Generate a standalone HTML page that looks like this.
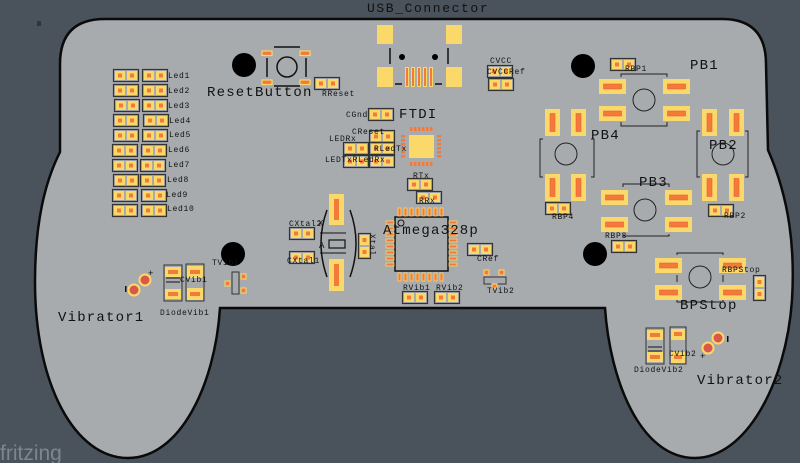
<!DOCTYPE html>
<html><head><meta charset="utf-8"><style>
html,body{margin:0;padding:0;background:#4a525c;}
svg{display:block}
text{font-family:"Liberation Mono","DejaVu Sans Mono",monospace;fill:#111;}
text[font-size="14"]{letter-spacing:1.2px}
text[font-size="13"]{letter-spacing:1.6px}
text[font-size="8"]{letter-spacing:0.7px}
</style></head><body>
<svg width="800" height="463" viewBox="0 0 800 463" xmlns="http://www.w3.org/2000/svg">
<defs>
<g id="pp"><rect x="0.5" y="0.5" width="25" height="12" fill="none" stroke="#333" stroke-width="1.2"/><rect x="2" y="2" width="10" height="9" fill="#fbd86a"/><rect x="5" y="4.5" width="4" height="4" fill="#f47a3a"/><rect x="14" y="2" width="10" height="9" fill="#fbd86a"/><rect x="17" y="4.5" width="4" height="4" fill="#f47a3a"/></g>
<g id="ppv"><rect x="0.5" y="0.5" width="12" height="25" fill="none" stroke="#333" stroke-width="1.2"/><rect x="2" y="2" width="9" height="10" fill="#fbd86a"/><rect x="4.5" y="5" width="4" height="4" fill="#f47a3a"/><rect x="2" y="14" width="9" height="10" fill="#fbd86a"/><rect x="4.5" y="17" width="4" height="4" fill="#f47a3a"/></g>
<g id="hp"><rect width="27" height="15" fill="#fbd86a"/><rect x="4.5" y="5" width="18" height="5" fill="#f47a3a" stroke="#e8603a" stroke-width="0.6"/></g>
<g id="vp"><rect width="15" height="27" fill="#fbd86a"/><rect x="5" y="4.5" width="5" height="18" fill="#f47a3a" stroke="#e8603a" stroke-width="0.6"/></g>
<g id="sp"><rect width="10" height="4.5" fill="#f47a3a" stroke="#fbd86a" stroke-width="1.2"/></g>
</defs>

<path d="M105,19 L722,19 Q766,19 766,64 L768,150 C790,200 795,250 792,300 C786,385 745,458 695,458 C640,458 610,380 605,308 L220,308 C215,385 180,458 128,458 C75,458 35,385 35,282 C35,222 45,182 60,152 L60,64 Q60,19 105,19 Z" fill="#a8abae" stroke="#0a0a0a" stroke-width="2.5"/>

<text x="367" y="12" font-size="13">USB_Connector</text>
<rect x="37" y="21" width="4" height="5" fill="#222" opacity="0.6"/>

<circle cx="244" cy="65" r="12" fill="#000"/>
<circle cx="583" cy="66" r="12" fill="#000"/>
<circle cx="233" cy="254" r="12" fill="#000"/>
<circle cx="595" cy="254" r="12" fill="#000"/>

<use href="#pp" x="113" y="69"/><use href="#pp" x="142" y="69"/><text x="168" y="78" font-size="8">Led1</text>
<use href="#pp" x="113" y="84"/><use href="#pp" x="142" y="84"/><text x="168" y="93" font-size="8">Led2</text>
<use href="#pp" x="114" y="99"/><use href="#pp" x="142" y="99"/><text x="168" y="108" font-size="8">Led3</text>
<use href="#pp" x="113" y="114"/><use href="#pp" x="143" y="114"/><text x="169" y="123" font-size="8">Led4</text>
<use href="#pp" x="113" y="129"/><use href="#pp" x="142" y="129"/><text x="169" y="137" font-size="8">Led5</text>
<use href="#pp" x="112" y="144"/><use href="#pp" x="141" y="144"/><text x="168" y="152" font-size="8">Led6</text>
<use href="#pp" x="112" y="159"/><use href="#pp" x="140" y="159"/><text x="168" y="167" font-size="8">Led7</text>
<use href="#pp" x="113" y="174"/><use href="#pp" x="140" y="174"/><text x="167" y="182" font-size="8">Led8</text>
<use href="#pp" x="112" y="189"/><use href="#pp" x="141" y="189"/><text x="166" y="197" font-size="8">Led9</text>
<use href="#pp" x="112" y="204"/><use href="#pp" x="141" y="204"/><text x="167" y="211" font-size="8">Led10</text>

<g stroke="#111" stroke-width="1.5" fill="none">
<line x1="274" y1="47" x2="300" y2="47"/><line x1="274" y1="86" x2="300" y2="86"/>
<line x1="267" y1="58" x2="267" y2="77"/><line x1="306" y1="58" x2="306" y2="77"/>
<circle cx="287" cy="67" r="10"/></g>
<use href="#sp" x="262" y="51"/><use href="#sp" x="300" y="51"/><use href="#sp" x="262" y="80"/><use href="#sp" x="300" y="80"/>
<text x="207" y="96" font-size="14">ResetButton</text>
<use href="#pp" x="314" y="77"/><text x="322" y="96" font-size="8">RReset</text>

<rect x="377" y="25" width="16" height="19" fill="#fbd86a"/><rect x="446" y="25" width="16" height="19" fill="#fbd86a"/>
<rect x="377" y="67" width="16" height="20" fill="#fbd86a"/><rect x="446" y="67" width="16" height="20" fill="#fbd86a"/>
<g stroke="#111" stroke-width="1.5"><line x1="390" y1="48" x2="390" y2="64"/><line x1="448" y1="48" x2="448" y2="64"/><line x1="395" y1="84" x2="402" y2="84"/><line x1="435" y1="84" x2="442" y2="84"/></g>
<circle cx="402" cy="57" r="3" fill="#000"/><circle cx="435" cy="57" r="3" fill="#000"/>
<g fill="#fbd86a"><rect x="405" y="67" width="4" height="20"/><rect x="411" y="67" width="4" height="20"/><rect x="417" y="67" width="4" height="20"/><rect x="423" y="67" width="4" height="20"/><rect x="429" y="67" width="4" height="20"/></g>
<g fill="#f47a3a"><rect x="406" y="68" width="2" height="18"/><rect x="412" y="68" width="2" height="18"/><rect x="418" y="68" width="2" height="18"/><rect x="424" y="68" width="2" height="18"/><rect x="430" y="68" width="2" height="18"/></g>

<text x="490" y="63" font-size="8">CVCC</text>
<use href="#pp" x="487" y="65"/><use href="#pp" x="488" y="78"/>
<text x="487" y="74" font-size="8">CVCCRef</text>

<text x="399" y="118" font-size="14">FTDI</text>
<use href="#pp" x="368" y="108"/><text x="346" y="117" font-size="8">CGnd</text>
<rect x="409" y="135" width="25" height="23" fill="#fbd86a"/>
<g fill="#f47a3a">
<rect x="410" y="127" width="2.5" height="4"/><rect x="414" y="127" width="2.5" height="4"/><rect x="418" y="127" width="2.5" height="4"/><rect x="422" y="127" width="2.5" height="4"/><rect x="426" y="127" width="2.5" height="4"/><rect x="430" y="127" width="2.5" height="4"/>
<rect x="410" y="162" width="2.5" height="4"/><rect x="414" y="162" width="2.5" height="4"/><rect x="418" y="162" width="2.5" height="4"/><rect x="422" y="162" width="2.5" height="4"/><rect x="426" y="162" width="2.5" height="4"/><rect x="430" y="162" width="2.5" height="4"/>
<rect x="401" y="135" width="4" height="2.5"/><rect x="401" y="139" width="4" height="2.5"/><rect x="401" y="143" width="4" height="2.5"/><rect x="401" y="147" width="4" height="2.5"/><rect x="401" y="151" width="4" height="2.5"/><rect x="401" y="155" width="4" height="2.5"/>
<rect x="437" y="135" width="4" height="2.5"/><rect x="437" y="139" width="4" height="2.5"/><rect x="437" y="143" width="4" height="2.5"/><rect x="437" y="147" width="4" height="2.5"/><rect x="437" y="151" width="4" height="2.5"/><rect x="437" y="155" width="4" height="2.5"/>
</g>
<use href="#pp" x="369" y="130"/><text x="352" y="134" font-size="8">CReset</text>
<use href="#pp" x="343" y="142"/><text x="329" y="141" font-size="8">LEDRx</text>
<use href="#pp" x="369" y="142"/><text x="374" y="151" font-size="8">RLedTx</text>
<use href="#pp" x="343" y="155"/><use href="#pp" x="369" y="155"/>
<text x="325" y="162" font-size="8">LEDTxRLedRx</text>

<use href="#pp" x="407" y="178"/><text x="413" y="178" font-size="8">RTx</text>
<use href="#pp" x="416" y="191"/><text x="419" y="203" font-size="8">RRx</text>

<rect x="395" y="217" width="53" height="54" fill="none" stroke="#111" stroke-width="1.5"/>
<circle cx="401" cy="223" r="3" fill="none" stroke="#111"/>
<g fill="#f47a3a" stroke="#fbd86a" stroke-width="0.8">
<rect x="398" y="208" width="3" height="8"/><rect x="404" y="208" width="3" height="8"/><rect x="410" y="208" width="3" height="8"/><rect x="416" y="208" width="3" height="8"/><rect x="422" y="208" width="3" height="8"/><rect x="428" y="208" width="3" height="8"/><rect x="434" y="208" width="3" height="8"/><rect x="440" y="208" width="3" height="8"/>
<rect x="398" y="273" width="3" height="8"/><rect x="404" y="273" width="3" height="8"/><rect x="410" y="273" width="3" height="8"/><rect x="416" y="273" width="3" height="8"/><rect x="422" y="273" width="3" height="8"/><rect x="428" y="273" width="3" height="8"/><rect x="434" y="273" width="3" height="8"/><rect x="440" y="273" width="3" height="8"/>
<rect x="386" y="221" width="8" height="3"/><rect x="386" y="227" width="8" height="3"/><rect x="386" y="233" width="8" height="3"/><rect x="386" y="239" width="8" height="3"/><rect x="386" y="245" width="8" height="3"/><rect x="386" y="251" width="8" height="3"/><rect x="386" y="257" width="8" height="3"/><rect x="386" y="263" width="8" height="3"/>
<rect x="449" y="221" width="8" height="3"/><rect x="449" y="227" width="8" height="3"/><rect x="449" y="233" width="8" height="3"/><rect x="449" y="239" width="8" height="3"/><rect x="449" y="245" width="8" height="3"/><rect x="449" y="251" width="8" height="3"/><rect x="449" y="257" width="8" height="3"/><rect x="449" y="263" width="8" height="3"/>
</g>
<text x="383" y="234" font-size="14">Atmega328p</text>

<rect x="329" y="194" width="15" height="31" fill="#fbd86a"/><rect x="334" y="199" width="5" height="21" fill="#f47a3a"/>
<rect x="329" y="259" width="15" height="32" fill="#fbd86a"/><rect x="334" y="264" width="5" height="22" fill="#f47a3a"/>
<path d="M327,210 Q315,243 327,277" fill="none" stroke="#111" stroke-width="1.5"/>
<path d="M350,210 Q362,243 350,277" fill="none" stroke="#111" stroke-width="1.5"/>
<rect x="329" y="240" width="16" height="8" fill="none" stroke="#111" stroke-width="1.2"/>
<line x1="320" y1="233" x2="346" y2="233" stroke="#111"/><line x1="320" y1="253" x2="346" y2="253" stroke="#111"/>
<text x="318" y="226" font-size="9">X</text><text x="319" y="248" font-size="9">A</text>
<use href="#pp" x="289" y="227"/><text x="289" y="226" font-size="8">CXtal2</text>
<use href="#pp" x="289" y="251"/><text x="287" y="263" font-size="8">CXtal1</text>
<use href="#ppv" x="358" y="233"/>
<text x="0" y="0" font-size="8" transform="translate(370,234) rotate(90)">Xtal</text>

<use href="#pp" x="467" y="243"/><text x="477" y="261" font-size="8">CRef</text>
<rect x="484" y="277" width="22" height="7" fill="none" stroke="#333"/>
<rect x="484" y="270" width="5" height="5" fill="#f47a3a" stroke="#fbd86a"/><rect x="499" y="270" width="5" height="5" fill="#f47a3a" stroke="#fbd86a"/><rect x="492" y="284" width="5" height="4" fill="#f47a3a" stroke="#fbd86a"/>
<text x="487" y="293" font-size="8">TVib2</text>
<text x="403" y="290" font-size="8">RVib1</text><text x="436" y="290" font-size="8">RVib2</text>
<use href="#pp" x="402" y="291"/><use href="#pp" x="434" y="291"/>

<g stroke="#222" stroke-width="1" fill="none">
<path d="M621,77 V74 H667 V77 M621,122 V126 H667 V122"/><circle cx="644" cy="100" r="11"/>
<path d="M543,139 H540 V177 H543 M591,139 H594 V177 H591"/><circle cx="566" cy="154" r="11"/>
<path d="M700,131 H697 V177 H700 M745,131 H748 V177 H745"/><circle cx="723" cy="154" r="11"/>
<path d="M623,187 V184 H669 V187 M623,234 V236 H669 V234"/><circle cx="645" cy="210" r="11"/>
<path d="M677,255 V253 H723 V255 M677,300 V302 H723 V300 M677,275 V282 M723,275 V282"/><circle cx="700" cy="277" r="11"/>
</g>
<use href="#hp" x="599" y="79"/><use href="#hp" x="663" y="79"/><use href="#hp" x="599" y="106"/><use href="#hp" x="663" y="106"/>
<use href="#vp" x="545" y="109"/><use href="#vp" x="571" y="109"/><use href="#vp" x="545" y="174"/><use href="#vp" x="571" y="174"/>
<use href="#vp" x="702" y="109"/><use href="#vp" x="729" y="109"/><use href="#vp" x="702" y="174"/><use href="#vp" x="729" y="174"/>
<use href="#hp" x="601" y="190"/><use href="#hp" x="665" y="190"/><use href="#hp" x="601" y="217"/><use href="#hp" x="665" y="217"/>
<use href="#hp" x="655" y="258"/><use href="#hp" x="719" y="258"/><use href="#hp" x="655" y="285"/><use href="#hp" x="719" y="285"/>
<text x="690" y="69" font-size="14">PB1</text>
<text x="591" y="139" font-size="14">PB4</text>
<text x="709" y="149" font-size="14">PB2</text>
<text x="639" y="186" font-size="14">PB3</text>
<text x="680" y="309" font-size="14">BPStop</text>
<use href="#pp" x="610" y="58"/><text x="625" y="71" font-size="8">RBP1</text>
<use href="#pp" x="545" y="202"/><text x="552" y="219" font-size="8">RBP4</text>
<use href="#pp" x="708" y="204"/><text x="724" y="218" font-size="8">RBP2</text>
<use href="#pp" x="611" y="240"/><text x="605" y="238" font-size="8">RBP3</text>
<use href="#ppv" x="753" y="275"/><text x="722" y="272" font-size="8">RBPStop</text>

<circle cx="145" cy="280" r="5.5" fill="#d9584a" stroke="#fbd86a" stroke-width="2"/>
<circle cx="134" cy="290" r="5.5" fill="#d9584a" stroke="#fbd86a" stroke-width="2"/>
<text x="148" y="276" font-size="9">+</text><rect x="125" y="286" width="1.5" height="6" fill="#111"/>
<text x="58" y="321" font-size="14">Vibrator1</text>
<rect x="164" y="265" width="18" height="36" fill="none" stroke="#333"/>
<rect x="165" y="267" width="16" height="10" fill="#fbd86a"/><rect x="168" y="270" width="10" height="4" fill="#f47a3a"/>
<rect x="165" y="289" width="16" height="10" fill="#fbd86a"/><rect x="168" y="292" width="10" height="4" fill="#f47a3a"/>
<line x1="166" y1="278" x2="180" y2="278" stroke="#111"/><line x1="166" y1="282" x2="180" y2="282" stroke="#111"/>
<rect x="186" y="264" width="18" height="37" fill="none" stroke="#333"/>
<rect x="187" y="266" width="16" height="12" fill="#fbd86a"/><rect x="190" y="270" width="10" height="4" fill="#f47a3a"/>
<rect x="187" y="288" width="16" height="12" fill="#fbd86a"/><rect x="190" y="292" width="10" height="4" fill="#f47a3a"/>
<text x="180" y="282" font-size="8">CVib1</text>
<text x="160" y="315" font-size="8">DiodeVib1</text>
<text x="212" y="265" font-size="8">TVib1</text>
<rect x="232" y="272" width="7" height="22" fill="none" stroke="#333"/>
<rect x="225" y="281" width="5" height="5" fill="#f47a3a" stroke="#fbd86a"/><rect x="241" y="274" width="5" height="5" fill="#f47a3a" stroke="#fbd86a"/><rect x="241" y="288" width="5" height="5" fill="#f47a3a" stroke="#fbd86a"/>

<rect x="646" y="328" width="18" height="36" fill="none" stroke="#333"/>
<rect x="647" y="330" width="16" height="10" fill="#fbd86a"/><rect x="650" y="333" width="10" height="4" fill="#f47a3a"/>
<rect x="647" y="352" width="16" height="10" fill="#fbd86a"/><rect x="650" y="355" width="10" height="4" fill="#f47a3a"/>
<line x1="648" y1="347" x2="662" y2="347" stroke="#111"/><line x1="648" y1="351" x2="662" y2="351" stroke="#111"/>
<rect x="670" y="327" width="16" height="37" fill="none" stroke="#333"/>
<rect x="671" y="329" width="14" height="11" fill="#fbd86a"/><rect x="674" y="332" width="8" height="4" fill="#f47a3a"/>
<rect x="671" y="352" width="14" height="11" fill="#fbd86a"/><rect x="674" y="355" width="8" height="4" fill="#f47a3a"/>
<text x="669" y="356" font-size="8">CVib2</text>
<text x="634" y="372" font-size="8">DiodeVib2</text>
<circle cx="718" cy="338" r="5.5" fill="#d9584a" stroke="#fbd86a" stroke-width="2"/>
<circle cx="708" cy="348" r="5.5" fill="#d9584a" stroke="#fbd86a" stroke-width="2"/>
<text x="700" y="359" font-size="9">+</text><rect x="727" y="336" width="1.5" height="6" fill="#111"/>
<text x="697" y="384" font-size="14">Vibrator2</text>

<text x="0" y="460" font-size="21" style="font-family:'Liberation Sans','DejaVu Sans',sans-serif;fill:#7d8590">fritzing</text>
</svg>
</body></html>
